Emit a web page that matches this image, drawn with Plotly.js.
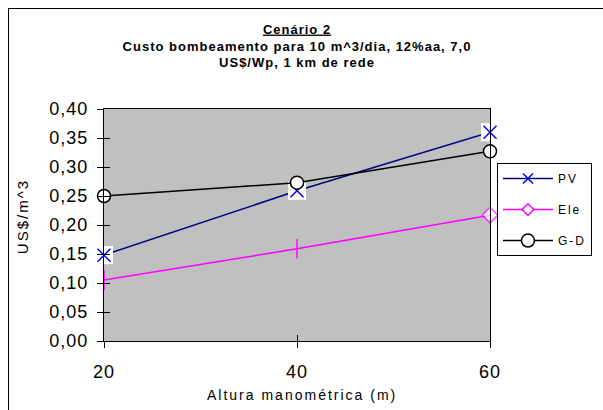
<!DOCTYPE html>
<html>
<head>
<meta charset="utf-8">
<script src="https://cdn.plot.ly/plotly-3.0.1.min.js"></script>
<style>
  html, body { margin: 0; padding: 0; background: #fff; overflow: hidden; }
  #wrap { position: relative; width: 603px; height: 410px; overflow: hidden; }
  #frame { position: absolute; left: 8px; top: 8px; width: 700px; height: 500px;
           border-left: 1px solid #000; border-top: 1px solid #000; pointer-events: none; }
  #chart { position: absolute; left: 0; top: 0; width: 603px; height: 410px; }
  .gtitle { letter-spacing: 1px; }
  .legendtext { letter-spacing: 2px; }
  .xtick text, .ytick text { letter-spacing: 1px; }
  .annotation-text.ls { letter-spacing: 2px; }
</style>
</head>
<body>
<div id="wrap">
  <div id="chart"></div>
  <div id="frame"></div>
</div>
<script>
// ---- data ----
var heights = [20, 40, 60];              // Altura manométrica (m)
var pvCost  = [0.148, 0.259, 0.360];      // PV
var eleCost = [0.105, 0.159, 0.217];      // Ele
var gdCost  = [0.250, 0.273, 0.327];      // G-D
var yTicks  = [0, 0.05, 0.10, 0.15, 0.20, 0.25, 0.30, 0.35, 0.40];
var xTicks  = [20, 40, 60];
var seriesNames = ['PV', 'Ele', 'G-D'];

var FONT = 'Arial, "Liberation Sans", sans-serif';
var NAVY = '#000080', BLUE = '#0000FF', MAG = '#FF00FF';

var traces = [
  // PV line
  { x: heights, y: pvCost, mode: 'lines', line: { color: NAVY, width: 1.5 },
    showlegend: false, cliponaxis: false, hoverinfo: 'skip' },
  // PV white square backgrounds
  { x: heights, y: pvCost, mode: 'markers',
    marker: { symbol: 'square', size: 18, color: '#fff', line: { width: 0 } },
    showlegend: false, cliponaxis: false, hoverinfo: 'skip' },
  // PV crosses
  { x: heights, y: pvCost, mode: 'markers',
    marker: { symbol: 'x-thin-open', size: 13, color: BLUE, line: { color: BLUE, width: 1.5 } },
    showlegend: false, cliponaxis: false },
  // Ele line with markers (vertical dashes, last point diamond)
  { x: heights, y: eleCost, mode: 'lines+markers', line: { color: MAG, width: 1.5 },
    marker: { symbol: ['line-ns', 'line-ns', 'diamond'], size: [14, 14, 12],
              color: [MAG, MAG, '#fff'],
              line: { color: MAG, width: [2, 2, 1.5] } },
    showlegend: false, cliponaxis: false },
  // G-D
  { x: heights, y: gdCost, mode: 'lines+markers', name: seriesNames[2], legendgroup: 'c', legendrank: 3,
    line: { color: '#000', width: 1.5 },
    marker: { symbol: 'circle', size: 13, color: '#fff', line: { color: '#000', width: 1.5 } },
    cliponaxis: false },
  // legend entries for PV and Ele
  { x: [null], y: [null], mode: 'lines+markers', name: seriesNames[0], legendgroup: 'a', legendrank: 1,
    line: { color: NAVY, width: 1.5 },
    marker: { symbol: 'x-thin-open', size: 10, color: BLUE, line: { color: BLUE, width: 1.5 } } },
  { x: [null], y: [null], mode: 'lines+markers', name: seriesNames[1], legendgroup: 'b', legendrank: 2,
    line: { color: MAG, width: 1.5 },
    marker: { symbol: 'diamond', size: 9, color: '#fff', line: { color: MAG, width: 1.5 } } },
  // carrier for inner tick overlay axes
  { x: [null], y: [null], xaxis: 'x2', yaxis: 'y2', mode: 'markers', showlegend: false, hoverinfo: 'skip' }
];

var layout = {
  width: 603, height: 410,
  margin: { l: 104, r: 113, t: 109, b: 69, pad: 0, autoexpand: false },
  paper_bgcolor: '#fff',
  plot_bgcolor: '#C0C0C0',
  separators: ',.',
  font: { family: FONT, color: '#000' },
  showlegend: true,
  title: {
    text: '<u>Cenário 2</u><br>Custo bombeamento para 10 m^3/dia, 12%aa, 7,0<br>US$/Wp, 1 km de rede',
    font: { family: FONT, size: 13, weight: 'bold', color: '#000' },
    x: 0.5, xanchor: 'center', xref: 'paper',
    y: 0.918, yanchor: 'top', yref: 'container'
  },
  xaxis: {
    range: [20, 60], tickvals: xTicks, ticktext: xTicks.map(String),
    ticks: 'outside', ticklen: 6, tickwidth: 1, tickcolor: '#000',
    showline: true, linecolor: '#000', linewidth: 1, mirror: true,
    showgrid: false, zeroline: false,
    tickfont: { family: FONT, size: 18, color: '#000' },
    ticklabelstandoff: 8, fixedrange: true
  },
  yaxis: {
    range: [0, 0.40], tickvals: yTicks, tickformat: '.2f',
    ticks: 'outside', ticklen: 6, tickwidth: 1, tickcolor: '#000',
    showline: true, linecolor: '#000', linewidth: 1, mirror: true,
    showgrid: false, zeroline: false,
    tickfont: { family: FONT, size: 18, color: '#000' },
    ticklabelstandoff: 5, fixedrange: true
  },
  xaxis2: {
    overlaying: 'x', anchor: 'y2', side: 'bottom', range: [20, 60], tickvals: xTicks,
    ticks: 'inside', ticklen: 6, tickwidth: 1, tickcolor: '#000',
    showticklabels: false, showline: false, showgrid: false, zeroline: false, fixedrange: true
  },
  yaxis2: {
    overlaying: 'y', anchor: 'x2', side: 'left', range: [0, 0.40], tickvals: yTicks,
    ticks: 'inside', ticklen: 6, tickwidth: 1, tickcolor: '#000',
    showticklabels: false, showline: false, showgrid: false, zeroline: false, fixedrange: true
  },
  legend: {
    x: 1.018, xanchor: 'left', y: 0.767, yanchor: 'top',
    bgcolor: '#fff', bordercolor: '#000', borderwidth: 1,
    font: { family: FONT, size: 12, color: '#000' },
    itemwidth: 50,
    traceorder: 'grouped', tracegroupgap: 12, itemclick: false, itemdoubleclick: false
  },
  annotations: [
    { text: 'US$/m^3', textangle: -90, showarrow: false,
      xref: 'paper', yref: 'paper', x: -0.2124, y: 0.534, xanchor: 'center', yanchor: 'middle',
      font: { family: FONT, size: 15, color: '#000' } },
    { text: 'Altura manométrica (m)', showarrow: false,
      xref: 'paper', yref: 'paper', x: 0.5135, y: -0.233, xanchor: 'center', yanchor: 'middle',
      font: { family: FONT, size: 14, color: '#000' } }
  ]
};

Plotly.newPlot('chart', traces, layout, { displayModeBar: false, staticPlot: true }).then(function () {
  document.querySelectorAll('.annotation-text').forEach(function (t) { t.classList.add('ls'); });
});
</script>
</body>
</html>
